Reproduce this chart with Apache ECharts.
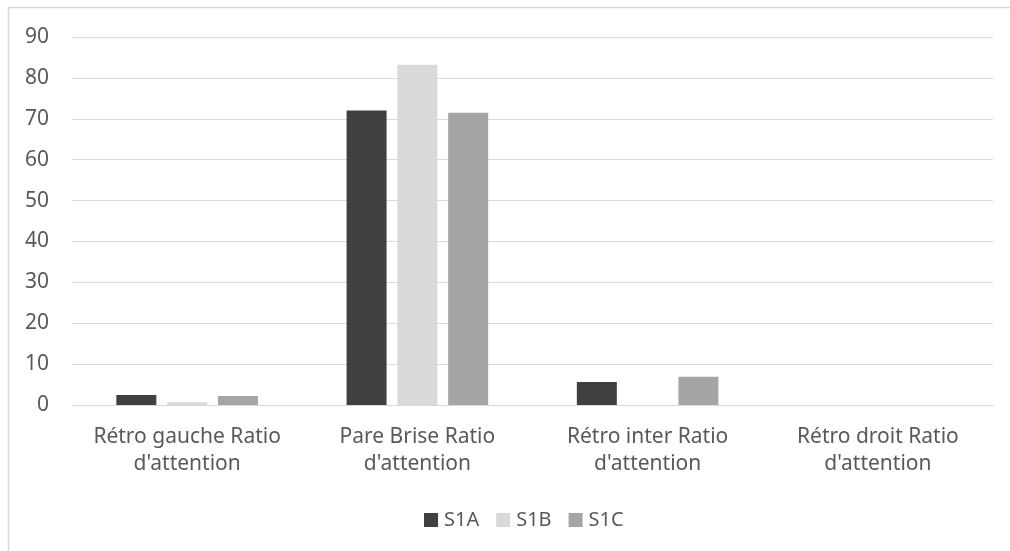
<!DOCTYPE html>
<html><head><meta charset="utf-8">
<script src="https://cdn.jsdelivr.net/npm/echarts@6/dist/echarts.min.js"></script>
<style>html,body{margin:0;padding:0;background:#fff}#c{width:1010px;height:551px}</style>
</head><body><div id="c"></div>
<script>
const categories = ["Rétro gauche Ratio\nd'attention", "Pare Brise Ratio\nd'attention", "Rétro inter Ratio\nd'attention", "Rétro droit Ratio\nd'attention"];
const seriesNames = ["S1A", "S1B", "S1C"];
const s1a = [2.45, 72.0, 5.6, 0];
const s1b = [0.7, 83.2, 0, 0];
const s1c = [2.2, 71.5, 6.9, 0];
const colors = ["#404040", "#d9d9d9", "#a5a5a5"];
const font = "Noto Sans";
const chart = echarts.init(document.getElementById('c'), null, {renderer: 'canvas'});
chart.setOption({
  animation: false,
  textStyle: {fontFamily: font},
  graphic: [
    {type: 'line', shape: {x1: 8, y1: 7.5, x2: 1010, y2: 7.5}, style: {stroke: '#d9d9d9', lineWidth: 1.5}, silent: true},
    {type: 'line', shape: {x1: 8.5, y1: 7, x2: 8.5, y2: 551}, style: {stroke: '#d9d9d9', lineWidth: 1.5}, silent: true}
  ],
  grid: {left: 72, right: 17, top: 37, bottom: 146},
  legend: {
    data: seriesNames, bottom: 16, left: 419, itemWidth: 14, itemHeight: 14, itemGap: 17,
    icon: 'rect', textStyle: {color: '#595959', fontSize: 20, fontFamily: font, padding: [0, 0, 0, 1]}
  },
  xAxis: {
    type: 'category', data: categories,
    axisLine: {lineStyle: {color: '#d9d9d9'}}, axisTick: {show: false},
    axisLabel: {color: '#595959', fontSize: 21, lineHeight: 27, margin: 19, interval: 0, fontFamily: font}
  },
  yAxis: {
    type: 'value', min: 0, max: 90, interval: 10,
    axisLine: {show: false}, axisTick: {show: false},
    splitLine: {lineStyle: {color: '#d9d9d9'}},
    axisLabel: {color: '#595959', fontSize: 21, margin: 23, fontFamily: font}
  },
  series: [
    {name: seriesNames[0], type: 'bar', data: s1a, barWidth: 40, barGap: '27%', itemStyle: {color: colors[0]}},
    {name: seriesNames[1], type: 'bar', data: s1b, barWidth: 40, barGap: '27%', itemStyle: {color: colors[1]}},
    {name: seriesNames[2], type: 'bar', data: s1c, barWidth: 40, barGap: '27%', itemStyle: {color: colors[2]}}
  ]
});
</script></body></html>
